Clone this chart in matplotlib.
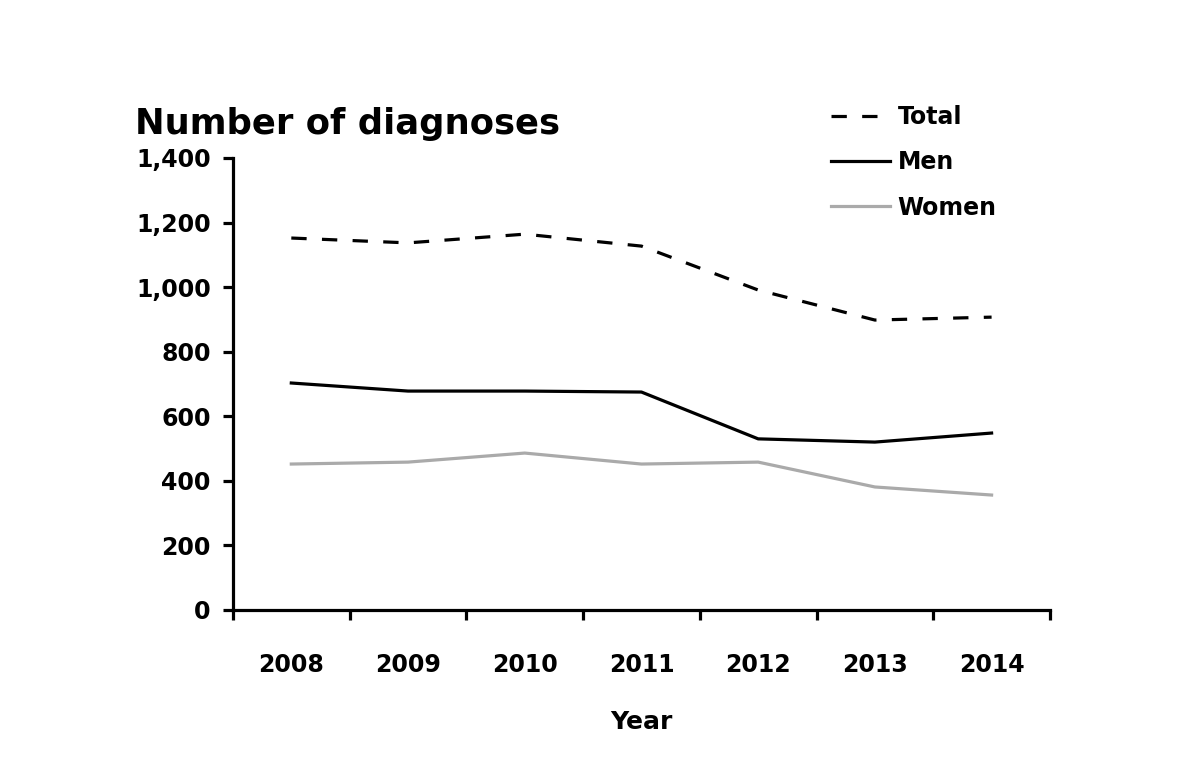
import matplotlib
matplotlib.use("Agg")
import matplotlib.pyplot as plt
import numpy as np

# values
years = ["2008", "2009", "2010", "2011", "2012", "2013", "2014"]
total = [1152, 1137, 1164, 1127, 991, 898, 907]
men = [703, 678, 678, 675, 530, 520, 548]
women = [452, 458, 486, 452, 458, 381, 356]
yticks = [0, 200, 400, 600, 800, 1000, 1200, 1400]

plt.rcParams['font.family'] = ['DejaVu Sans']

fig = plt.figure(figsize=(12.02, 7.62), dpi=100)
ax = fig.add_axes([0.1938, 0.1995, 0.6797, 0.5932])

x = np.arange(len(years))
lw = 2.3
ax.plot(x, total, color='black', lw=lw, dashes=(4.8, 4.8), label='Total')
ax.plot(x, men, color='black', lw=lw, label='Men')
ax.plot(x, women, color='#aaaaaa', lw=lw, label='Women')

ax.set_xlim(-0.5, len(years) - 0.5)
ax.set_ylim(0, 1400)

for s in ['top', 'right']:
    ax.spines[s].set_visible(False)
for s in ['left', 'bottom']:
    ax.spines[s].set_linewidth(lw)

# boundary ticks, labels at category centres
ax.set_xticks(np.arange(len(years) + 1) - 0.5)
ax.set_xticklabels([])
ax.set_xticks(x, minor=True)
ax.set_xticklabels(years, minor=True, fontsize=17, fontweight='bold')
ax.tick_params(axis='x', which='major', length=7, width=lw, direction='out')
ax.tick_params(axis='x', which='minor', length=0, pad=31)

ax.set_yticks(yticks)
ax.set_yticklabels([f"{v:,}" for v in yticks], fontsize=17, fontweight='bold')
ax.tick_params(axis='y', length=7, width=lw, pad=9)

ax.set_xlabel("Year", fontsize=18, fontweight='bold', labelpad=24)
fig.text(0.112, 0.824, "Number of diagnoses", fontsize=25.5, fontweight='bold',
         ha='left', va='baseline')

ax.legend(loc='upper left', bbox_to_anchor=(0.691, 0.862), bbox_transform=fig.transFigure,
          frameon=False, borderpad=0, borderaxespad=0,
          handlelength=2.5, handletextpad=0.34, labelspacing=0.9,
          prop={'size': 17, 'weight': 'bold'})

fig.savefig("out.png", dpi=100)
